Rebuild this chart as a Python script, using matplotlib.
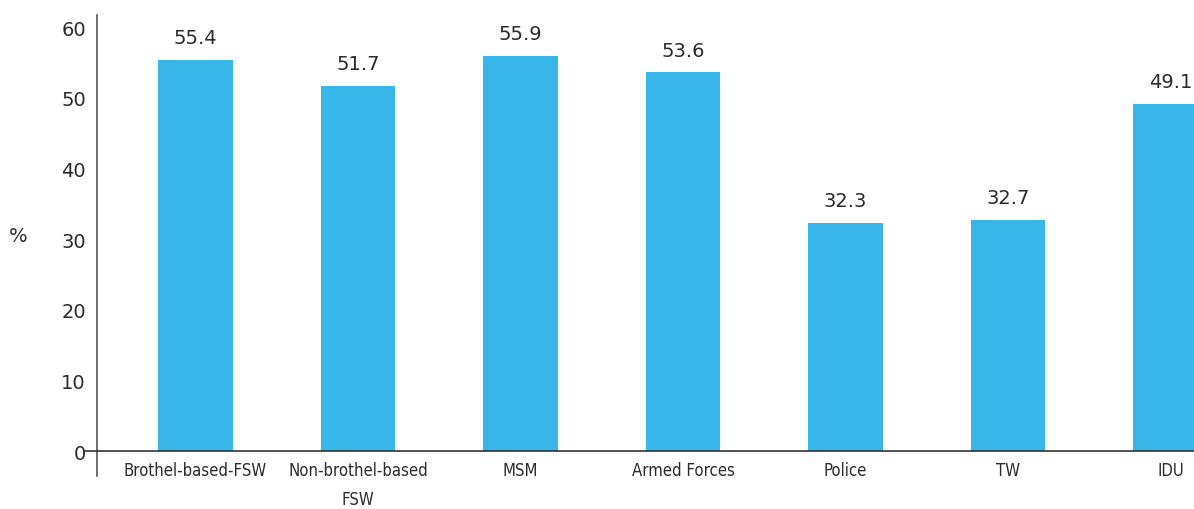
import matplotlib
matplotlib.use('Agg')
import matplotlib.pyplot as plt

categories = ['Brothel-based-FSW', 'Non-brothel-based\nFSW', 'MSM', 'Armed Forces',
              'Police', 'TW', 'IDU']
values = [55.4, 51.7, 55.9, 53.6, 32.3, 32.7, 49.1]
yticks = [0, 10, 20, 30, 40, 50, 60]

bar_color = '#37B7E9'
text_color = '#2b2b2b'

fig = plt.figure(figsize=(11.94, 5.10), dpi=100)
ax = fig.add_axes([97 / 1194, 33 / 510, 1 - 97 / 1194, (477 - 16) / 510])

x = list(range(len(categories)))
bars = ax.bar(x, values, width=0.46, color=bar_color, zorder=2)

for xi, v in zip(x, values):
    ax.annotate(f'{v:.1f}', (xi, v), xytext=(0, 16), textcoords='offset points',
                ha='center', va='center', fontsize=14, color=text_color)

ax.set_xlim(-0.606, 6.145)
ax.set_ylim(-3.5, 61.7)

# zero line with a small stub left of the axis
ax.axhline(0, xmin=-12 / 1097, xmax=1, color='#333333', lw=1.2, clip_on=False, zorder=3)

ax.set_yticks(yticks)
ax.set_yticklabels([str(t) for t in yticks], fontsize=14, color=text_color)
ax.tick_params(axis='y', length=0, pad=8)

ax.set_xticks(x)
ax.set_xticklabels(categories, fontsize=12, color=text_color, fontstretch='condensed',
                   linespacing=1.8)
ax.tick_params(axis='x', length=0, pad=7)
for lbl in ax.get_xticklabels():
    lbl.set_y(3.5 / 65.2)
    lbl.set_va('top')

for s in ['top', 'right', 'bottom']:
    ax.spines[s].set_visible(False)
ax.spines['left'].set_color('#555555')
ax.spines['left'].set_linewidth(1.2)

fig.text(18 / 1194, 1 - 237 / 510, '%', fontsize=14, color=text_color,
         ha='center', va='center')

fig.savefig('out.png', dpi=100)
